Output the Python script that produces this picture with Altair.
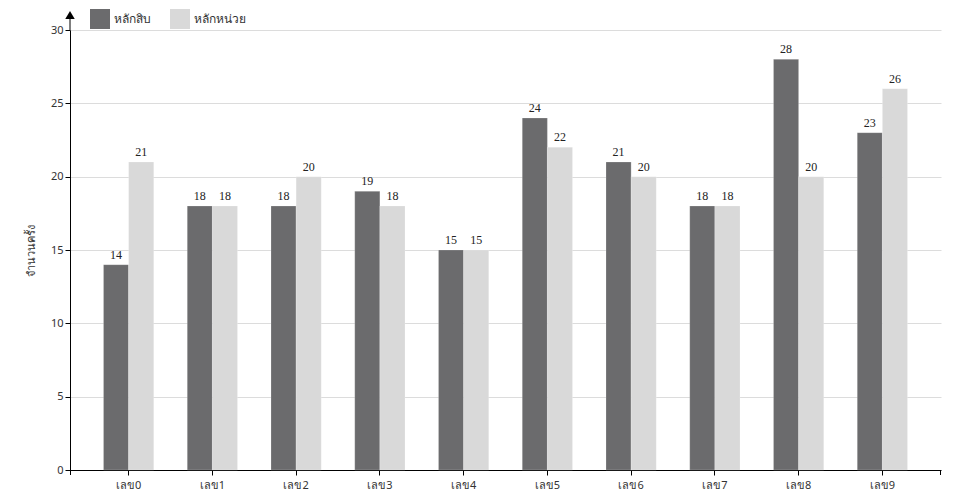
import altair as alt
import pandas as pd

categories = ["เลข0", "เลข1", "เลข2", "เลข3", "เลข4", "เลข5", "เลข6", "เลข7", "เลข8", "เลข9"]
series_names = ["หลักสิบ", "หลักหน่วย"]
tens = [14, 18, 18, 19, 15, 24, 21, 18, 28, 23]
units = [21, 18, 20, 18, 15, 22, 20, 18, 20, 26]
colors = ["#6b6b6d", "#d9d9d9"]

rows = []
for c, a, b in zip(categories, tens, units):
    rows.append({"cat": c, "series": series_names[0], "value": a})
    rows.append({"cat": c, "series": series_names[1], "value": b})
df = pd.DataFrame(rows)

W, H = 871, 440

x = alt.X("cat:N", sort=categories, title=None,
          scale=alt.Scale(paddingInner=0.4, paddingOuter=0.4),
          axis=alt.Axis(labelAngle=0, labelFont="Noto Sans", labelFontSize=11, labelColor="#333",
                        tickSize=5, tickColor="#000", domainColor="#000", labelPadding=4, grid=False))
y = alt.Y("value:Q", title="จำนวนครั้ง",
          scale=alt.Scale(domain=[0, 30], nice=False),
          axis=alt.Axis(values=[0, 5, 10, 15, 20, 25, 30], labelFont="Noto Sans", labelFontSize=11,
                        labelColor="#333", tickSize=5, tickColor="#000", domainColor="#000",
                        gridColor="#dcdcdc", titleFont="Noto Sans", titleFontSize=11,
                        titleFontWeight="normal", titleColor="#333", titlePadding=14))
xo = alt.XOffset("series:N", sort=series_names, scale=alt.Scale(paddingInner=0, paddingOuter=0))
color = alt.Color("series:N", sort=series_names,
                  scale=alt.Scale(domain=series_names, range=colors),
                  legend=alt.Legend(title=None, orient="none", legendX=20, legendY=-21,
                                    direction="horizontal", symbolType="square", symbolSize=400,
                                    symbolStrokeWidth=0, labelFont="Noto Sans", labelFontSize=12,
                                    labelColor="#333", columnPadding=19, labelOffset=4))

base = alt.Chart(df).encode(x=x, y=y, xOffset=xo)
bars = base.mark_bar(stroke="#ffffff", strokeOpacity=0.4, strokeWidth=0.5).encode(color=color)
labels = base.mark_text(baseline="bottom", dy=-3, font="Liberation Serif", fontSize=12,
                        color="#222").encode(text="value:Q")

one = pd.DataFrame({"a": [0]})
arrow = alt.Chart(one).mark_point(shape="triangle-up", filled=True, color="#000",
                                  size=90, opacity=1).encode(x=alt.value(0), y=alt.value(-15))
ext = alt.Chart(one).mark_rule(color="#000").encode(
    x=alt.value(0), y=alt.value(-12), y2=alt.value(0))
tick_left = alt.Chart(one).mark_rule(color="#000").encode(
    x=alt.value(0.5), y=alt.value(H), y2=alt.value(H + 5))
tick_right = alt.Chart(one).mark_rule(color="#000").encode(
    x=alt.value(W - 0.5), y=alt.value(H), y2=alt.value(H + 5))

chart = alt.layer(bars, labels, arrow, ext, tick_left, tick_right).properties(
    width=W, height=H,
    autosize=alt.AutoSizeParams(type="none"),
    padding={"left": 62, "top": 22, "right": 10, "bottom": 20},
).configure_view(stroke=None)

chart.save("out.html", embed_options={"renderer": "svg", "actions": False})
